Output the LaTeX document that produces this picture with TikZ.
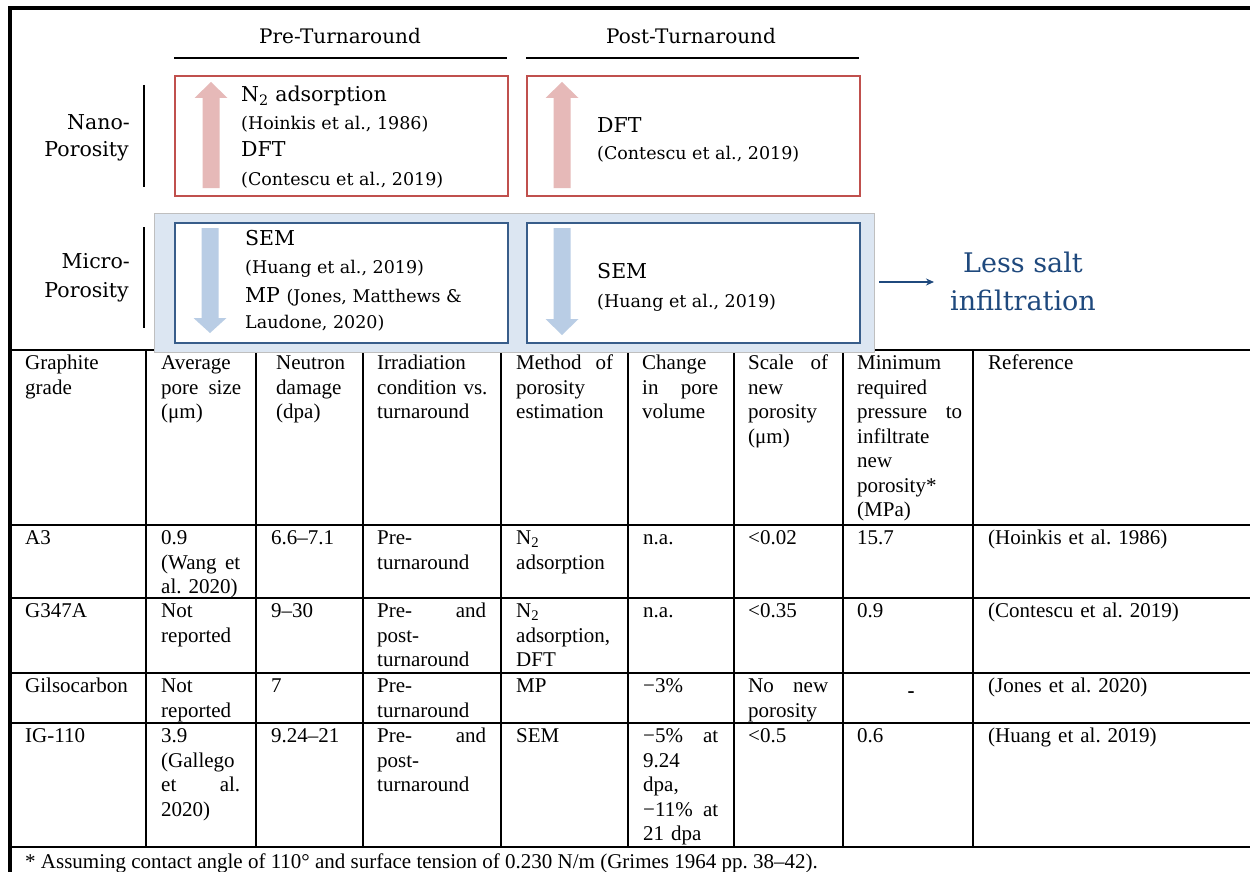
\documentclass[tikz,border=0pt]{standalone}
\usepackage{fontspec}
\setmainfont{Liberation Serif}
\newfontfamily\dfont{DejaVu Serif}
\usetikzlibrary{arrows.meta}
\frenchspacing
\definecolor{redbox}{HTML}{C0504D}
\definecolor{bluebox}{HTML}{385D8A}
\definecolor{pinkarrow}{HTML}{E6B9B8}
\definecolor{bluearrow}{HTML}{B9CDE5}
\definecolor{panelfill}{HTML}{DCE6F2}
\definecolor{panelline}{HTML}{BFBFBF}
\definecolor{darkblue}{HTML}{1F497D}
\newcommand\mainsz{\dfont\fontsize{20.5}{24}\selectfont}
\newcommand\refsz{\dfont\fontsize{17.5}{21}\selectfont}
\newcommand\bigsz{\dfont\fontsize{27}{32}\selectfont}
\newcommand\tabsz{\fontsize{21}{24.5}\selectfont}
\newcommand\jline[3]{\leavevmode\hbox to #1pt{#2\hfill #3}}
\newcommand\blockarrow[5]{\fill[#5] ({#1-8.5},#4) -- ({#1-8.5},#3) -- ({#1-16.5},#3) -- (#1,#2) -- ({#1+16.5},#3) -- ({#1+8.5},#3) -- ({#1+8.5},#4) -- cycle;}
\begin{document}
\begin{tikzpicture}[x=1pt,y=-1pt,
  dlab/.style={font=\mainsz, anchor=base west, inner sep=0},
  dref/.style={font=\refsz, anchor=base west, inner sep=0},
  sidelab/.style={font=\mainsz, anchor=base east, inner sep=0},
  cell/.style={font=\tabsz, anchor=north west, inner sep=0, align=left, text width=200},
  redb/.style={draw=redbox, fill=white, line width=1.6, minimum width=333, minimum height=120, inner sep=0, anchor=north west},
  blueb/.style={draw=bluebox, fill=white, line width=1.8, minimum width=333, minimum height=120, inner sep=0, anchor=north west},
  tline/.style={line width=2.6, black},
  frame/.style={line width=3.2, black}]
\useasboundingbox (0,0) rectangle (1250,872);
\clip (0,0) rectangle (1250,872);
% outer frame
\draw[frame] (10,8) -- (1252,8);
\draw[frame] (10,6.4) -- (10,875);
% headings
\node[font=\dfont\fontsize{20}{24}\selectfont, anchor=base, inner sep=0] (pre) at (340,44) {Pre-Turnaround};
\node[font=\dfont\fontsize{20}{24}\selectfont, anchor=base, inner sep=0] (post) at (691,44) {Post-Turnaround};
\draw[line width=2.8] (174,58) -- (507,58);
\draw[line width=2.8] (526,58) -- (859,58);
% side labels
\node[sidelab] (nano1) at (130,130) {Nano-};
\node[sidelab] (nano2) at (129,157) {Porosity};
\node[sidelab] (micro1) at (130,268) {Micro-};
\node[sidelab] (micro2) at (129,297) {Porosity};
\draw[line width=2.5] (144,85) -- (144,187);
\draw[line width=2.5] (144,227) -- (144,328);
% table lines
\foreach \yy in {350,525,598,673,723,847} \draw[tline] (8.4,\yy) -- (1252,\yy);
\foreach \xx in {146,256,363,501,628,734,843,973} \draw[tline] (\xx,350) -- (\xx,847);
% panel
\draw[draw=panelline, fill=panelfill, line width=1] (154,213) rectangle (874,352);
% boxes
\node[redb] (b1) at (174,75) {};
\node[redb] (b2) at (526,75) {};
\node[blueb] (b3) at (174,222) {};
\node[blueb] (b4) at (526,222) {};
% block arrows
\blockarrow{211}{82}{98}{188}{pinkarrow}
\blockarrow{562}{82}{98}{188}{pinkarrow}
\blockarrow{210}{333}{318}{228}{bluearrow}
\blockarrow{562}{335}{319}{228}{bluearrow}
% box texts
\node[dlab] (t1a) at (241,102) {N\textsubscript{2} adsorption};
\node[dref] (t1b) at (241,130) {(Hoinkis et al., 1986)};
\node[dlab] (t1c) at (241,157) {DFT};
\node[dref] (t1d) at (241,185) {(Contescu et al., 2019)};
\node[dlab] (t2a) at (597,132) {DFT};
\node[dref] (t2b) at (597,160) {(Contescu et al., 2019)};
\node[dlab] (t3a) at (245,245) {SEM};
\node[dref] (t3b) at (245,273) {(Huang et al., 2019)};
\node[dlab] (t3c) at (245,302) {MP {\refsz (Jones, Matthews \&}};
\node[dref] (t3d) at (245,328) {Laudone, 2020)};
\node[dlab] (t4a) at (597,278) {SEM};
\node[dref] (t4b) at (597,307) {(Huang et al., 2019)};
% less salt
\node[font=\bigsz, text=darkblue, anchor=base, inner sep=0] (less1) at (1023,272) {Less salt};
\node[font=\bigsz, text=darkblue, anchor=base, inner sep=0] (less2) at (1023,310) {infiltration};
\coordinate (arrs) at (879,282);
\coordinate (arre) at (934,282);
\draw[darkblue, line width=2, -{Stealth[length=8,width=7]}] (arrs) -- (arre);
% table header
\node[cell] (h1) at (25,352.35) {\strut Graphite\\grade};
\node[cell] (h2) at (161,352.35) {\strut Average\\\jline{80}{pore}{size}\\(μm)};
\node[cell] (h3) at (276,352.35) {\strut Neutron\\damage\\(dpa)};
\node[cell] (h4) at (377,352.35) {\strut Irradiation\\condition vs.\\turnaround};
\node[cell] (h5) at (516,352.35) {\strut \jline{97}{Method}{of}\\porosity\\estimation};
\node[cell] (h6) at (642,352.35) {\strut Change\\\jline{76}{in}{pore}\\volume};
\node[cell] (h7) at (748,352.35) {\strut \jline{80}{Scale}{of}\\new\\porosity\\(μm)};
\node[cell] (h8) at (857,352.35) {\strut Minimum\\required\\\jline{105}{pressure}{to}\\infiltrate\\new\\porosity*\\(MPa)};
\node[cell] (h9) at (988,352.35) {\strut Reference};
% row A3
\node[cell] (a1) at (25,527.35) {\strut A3};
\node[cell] (a2) at (161,527.35) {\strut 0.9\\\jline{79}{(Wang}{et}\\al. 2020)};
\node[cell] (a3) at (271,527.35) {\strut 6.6–7.1};
\node[cell] (a4) at (377,527.35) {\strut Pre-\\turnaround};
\node[cell] (a5) at (516,527.35) {\strut N\textsubscript{2}\\adsorption};
\node[cell] (a6) at (643,527.35) {\strut n.a.};
\node[cell] (a7) at (748,527.35) {\strut <0.02};
\node[cell] (a8) at (857,527.35) {\strut 15.7};
\node[cell] (a9) at (988,527.35) {\strut (Hoinkis et al. 1986)};
% row G347A
\node[cell] (g1) at (25,600.35) {\strut G347A};
\node[cell] (g2) at (161,600.35) {\strut Not\\reported};
\node[cell] (g3) at (271,600.35) {\strut 9–30};
\node[cell] (g4) at (377,600.35) {\strut \jline{109}{Pre-}{and}\\post-\\turnaround};
\node[cell] (g5) at (516,600.35) {\strut N\textsubscript{2}\\adsorption,\\DFT};
\node[cell] (g6) at (643,600.35) {\strut n.a.};
\node[cell] (g7) at (748,600.35) {\strut <0.35};
\node[cell] (g8) at (857,600.35) {\strut 0.9};
\node[cell] (g9) at (988,600.35) {\strut (Contescu et al. 2019)};
% row Gilsocarbon
\node[cell] (s1) at (25,675.35) {\strut Gilsocarbon};
\node[cell] (s2) at (161,675.35) {\strut Not\\reported};
\node[cell] (s3) at (271,675.35) {\strut 7};
\node[cell] (s4) at (377,675.35) {\strut Pre-\\turnaround};
\node[cell] (s5) at (516,675.35) {\strut MP};
\node[cell] (s6) at (643,675.35) {\strut −3\%};
\node[cell] (s7) at (748,675.35) {\strut \jline{80}{No}{new}\\porosity};
\node[font=\tabsz\bfseries, inner sep=0] (s8) at (911,695) {-};
\node[cell] (s9) at (988,675.35) {\strut (Jones et al. 2020)};
% row IG-110
\node[cell] (i1) at (25,725.35) {\strut IG-110};
\node[cell] (i2) at (161,725.35) {\strut 3.9\\(Gallego\\\jline{79}{et}{al.}\\2020)};
\node[cell] (i3) at (271,725.35) {\strut 9.24–21};
\node[cell] (i4) at (377,725.35) {\strut \jline{109}{Pre-}{and}\\post-\\turnaround};
\node[cell] (i5) at (516,725.35) {\strut SEM};
\node[cell] (i6) at (643,725.35) {\strut \jline{75}{−5\%}{at}\\9.24\\dpa,\\\jline{75}{−11\%}{at}\\21 dpa};
\node[cell] (i7) at (748,725.35) {\strut <0.5};
\node[cell] (i8) at (857,725.35) {\strut 0.6};
\node[cell] (i9) at (988,725.35) {\strut (Huang et al. 2019)};
% footer
\node[font=\tabsz, anchor=base west, inner sep=0] (foot) at (25,868) {* Assuming contact angle of 110° and surface tension of 0.230 N/m (Grimes 1964 pp. 38–42).};
\end{tikzpicture}
\end{document}
